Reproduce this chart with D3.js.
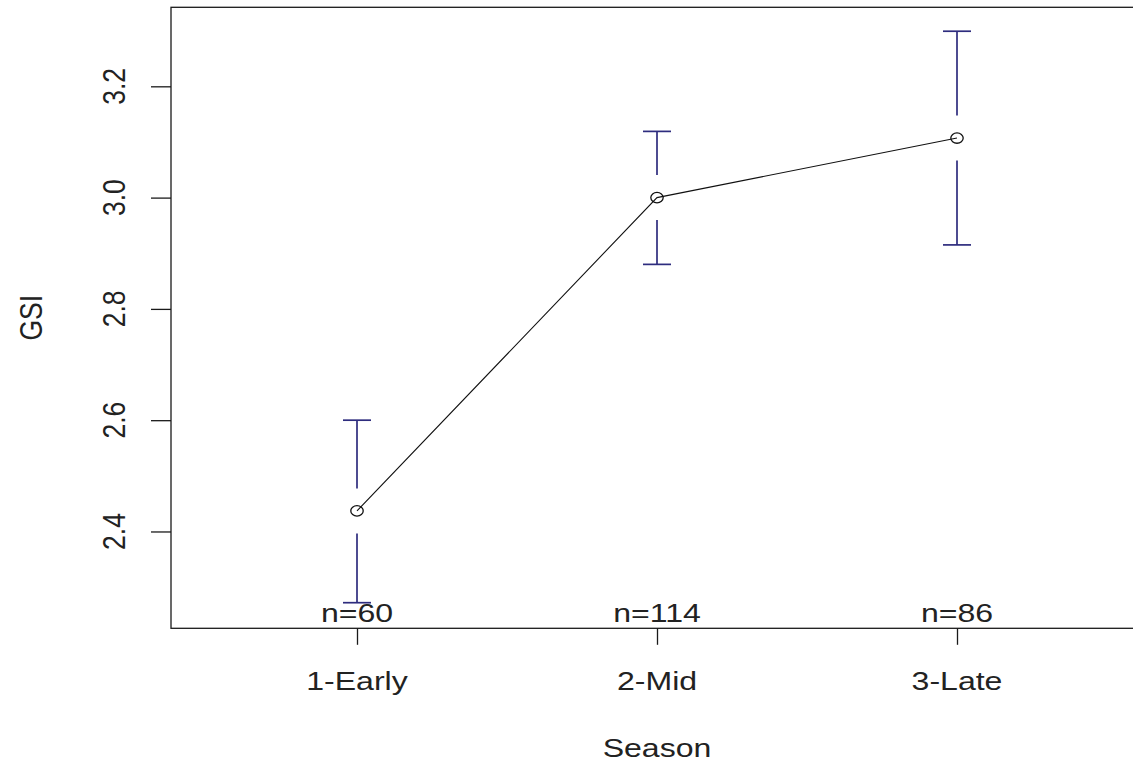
<!DOCTYPE html>
<html><head><meta charset="utf-8">
<script src="https://cdn.jsdelivr.net/npm/d3@7"></script>
<style>body{margin:0;background:#fff}svg{display:block}</style>
</head><body>
<svg id="c" width="1133" height="764"></svg>
<script>
const categories = ["1-Early", "2-Mid", "3-Late"];
const means = [2.437, 3.000, 3.107];
const lower = [2.272, 2.880, 2.915];
const upper = [2.600, 3.119, 3.299];
const counts = [60, 114, 86];
const yTicks = [2.4, 2.6, 2.8, 3.0, 3.2];
const xTitle = "Season";
const yTitle = "GSI";

const L = 171, R = 1143, T = 7.3, B = 628.3;
const SX = 1.21; // horizontal stretch of the picture
const FS = 26.5;
const FONT = "'Liberation Sans', Arial, sans-serif";
const TXT = "#222";
const BAR = "#2e2c7e";

const svg = d3.select("#c");
svg.append("rect").attr("width", 1133).attr("height", 764).attr("fill", "#fff");

const x = d3.scaleLinear().domain([0.38, 3.62]).range([L, R]);
const y = d3.scaleLinear().domain([2.226, 3.342]).range([B, T]);

function addText(px, py, str, rot) {
  const g = svg.append("g")
    .attr("transform", `translate(${px},${py}) scale(${SX},1)` + (rot ? " rotate(-90)" : ""));
  g.append("text").attr("text-anchor", "middle")
    .attr("font-family", FONT).attr("font-size", FS).attr("fill", TXT)
    .text(str);
}

// box
svg.append("rect").attr("x", L).attr("y", T).attr("width", R - L).attr("height", B - T)
  .attr("fill", "none").attr("stroke", "#1a1a1a").attr("stroke-width", 1.3);

// y axis ticks
const ya = svg.append("g").attr("transform", `translate(${L},0)`)
  .call(d3.axisLeft(y).tickValues(yTicks).tickSize(20).tickFormat(""));
ya.select(".domain").remove();
ya.selectAll("line").attr("stroke", "#1a1a1a").attr("stroke-width", 1.3);
yTicks.forEach(v => addText(124.5, y(v), d3.format(".1f")(v), true));

// x axis ticks
const xa = svg.append("g").attr("transform", `translate(0,${B})`)
  .call(d3.axisBottom(x).tickValues([1, 2, 3]).tickSize(16.5).tickFormat(""));
xa.select(".domain").remove();
xa.selectAll("line").attr("stroke", "#1a1a1a").attr("stroke-width", 1.3);
categories.forEach((c, i) => addText(x(i + 1), 689.5, c, false));

// titles
addText((L + R) / 2, 757, xTitle, false);
addText(41.5, (T + B) / 2, yTitle, true);

// error bars
const GAP = 22.5, CAP = 14;
const eb = svg.append("g").attr("stroke", BAR).attr("stroke-width", 1.7).attr("fill", "none");
means.forEach((m, i) => {
  const cx = x(i + 1), cy = y(m);
  eb.append("line").attr("x1", cx).attr("x2", cx).attr("y1", y(upper[i])).attr("y2", cy - GAP);
  eb.append("line").attr("x1", cx).attr("x2", cx).attr("y1", cy + GAP).attr("y2", y(lower[i]));
  eb.append("line").attr("x1", cx - CAP).attr("x2", cx + CAP).attr("y1", y(upper[i])).attr("y2", y(upper[i]));
  eb.append("line").attr("x1", cx - CAP).attr("x2", cx + CAP).attr("y1", y(lower[i])).attr("y2", y(lower[i]));
});

// connecting line
const line = d3.line().x((d, i) => x(i + 1)).y(d => y(d));
svg.append("path").datum(means).attr("d", line)
  .attr("fill", "none").attr("stroke", "#111").attr("stroke-width", 1.1);

// points
svg.append("g").selectAll("ellipse").data(means).join("ellipse")
  .attr("cx", (d, i) => x(i + 1)).attr("cy", d => y(d))
  .attr("rx", 6.2).attr("ry", 5.2)
  .attr("fill", "none").attr("stroke", "#111").attr("stroke-width", 1.3);

// n labels
counts.forEach((n, i) => addText(x(i + 1), 621.5, "n=" + n, false));
</script>
</body></html>
